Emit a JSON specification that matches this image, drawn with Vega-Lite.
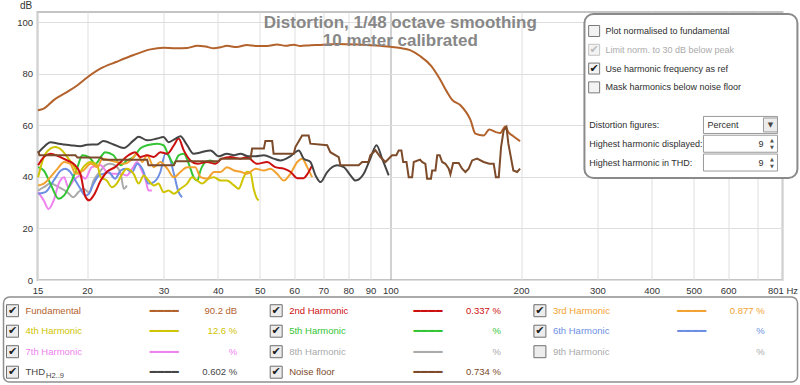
{
  "$schema": "https://vega.github.io/schema/vega-lite/v6.json",
  "background": "white",
  "padding": {"left": 2.5, "top": 0, "right": 0, "bottom": 0},
  "width": 745,
  "height": 268,
  "config": {"font": "Liberation Sans", "text": {"font": "Liberation Sans"}, "view": {"stroke": "#c4c4c4", "strokeWidth": 2, "fill": "white"}},
  "datasets": {
    "lines": [
      {"series":"8th Harmonic","freq":15.42,"db":34.7},{"series":"8th Harmonic","freq":15.89,"db":36},{"series":"8th Harmonic","freq":16.46,"db":37.4},{"series":"8th Harmonic","freq":17.2,"db":36},{"series":"8th Harmonic","freq":18.0,"db":34.1},{"series":"8th Harmonic","freq":18.6,"db":32.1},{"series":"8th Harmonic","freq":19.1,"db":34.1},{"series":"8th Harmonic","freq":19.6,"db":35.4},{"series":"8th Harmonic","freq":20.2,"db":34.1},{"series":"8th Harmonic","freq":20.7,"db":38.6},{"series":"8th Harmonic","freq":21.5,"db":42.5},{"series":"8th Harmonic","freq":22.0,"db":44.5},{"series":"8th Harmonic","freq":22.6,"db":45.1},{"series":"8th Harmonic","freq":23.2,"db":44.5},{"series":"8th Harmonic","freq":23.9,"db":41.2},{"series":"8th Harmonic","freq":24.3,"db":35.4},{"series":"8th Harmonic","freq":24.7,"db":36.7},
      {"series":"7th Harmonic","freq":15.42,"db":34.1},{"series":"7th Harmonic","freq":15.89,"db":30.9},{"series":"7th Harmonic","freq":16.3,"db":27.6},{"series":"7th Harmonic","freq":16.75,"db":30.9},{"series":"7th Harmonic","freq":17.2,"db":37.4},{"series":"7th Harmonic","freq":17.7,"db":39.9},{"series":"7th Harmonic","freq":18.1,"db":36},{"series":"7th Harmonic","freq":18.6,"db":38.6},{"series":"7th Harmonic","freq":19.3,"db":40.6},{"series":"7th Harmonic","freq":19.8,"db":39.3},{"series":"7th Harmonic","freq":20.5,"db":43.8},{"series":"7th Harmonic","freq":21.5,"db":44.5},{"series":"7th Harmonic","freq":22.2,"db":41.9},{"series":"7th Harmonic","freq":23.0,"db":41.2},{"series":"7th Harmonic","freq":23.9,"db":41.2},{"series":"7th Harmonic","freq":24.7,"db":40.6},{"series":"7th Harmonic","freq":25.4,"db":43.2},{"series":"7th Harmonic","freq":26.1,"db":45.8},{"series":"7th Harmonic","freq":26.5,"db":43.8},{"series":"7th Harmonic","freq":27.3,"db":38.6},{"series":"7th Harmonic","freq":27.7,"db":34.7},{"series":"7th Harmonic","freq":28.2,"db":34.7},
      {"series":"6th Harmonic","freq":15.42,"db":33.5},{"series":"6th Harmonic","freq":16.03,"db":34.1},{"series":"6th Harmonic","freq":16.75,"db":38.6},{"series":"6th Harmonic","freq":17.4,"db":42.5},{"series":"6th Harmonic","freq":17.8,"db":43.2},{"series":"6th Harmonic","freq":18.3,"db":41.9},{"series":"6th Harmonic","freq":18.8,"db":38.6},{"series":"6th Harmonic","freq":19.3,"db":35.4},{"series":"6th Harmonic","freq":19.8,"db":32.8},{"series":"6th Harmonic","freq":20.2,"db":33.5},{"series":"6th Harmonic","freq":20.7,"db":37.4},{"series":"6th Harmonic","freq":21.3,"db":40.6},{"series":"6th Harmonic","freq":21.8,"db":41.2},{"series":"6th Harmonic","freq":22.4,"db":41.9},{"series":"6th Harmonic","freq":23.2,"db":39.3},{"series":"6th Harmonic","freq":23.9,"db":42.5},{"series":"6th Harmonic","freq":24.5,"db":43.2},{"series":"6th Harmonic","freq":25.4,"db":41.9},{"series":"6th Harmonic","freq":26.1,"db":45.1},{"series":"6th Harmonic","freq":26.8,"db":43.2},{"series":"6th Harmonic","freq":27.7,"db":37.4},{"series":"6th Harmonic","freq":28.5,"db":38},{"series":"6th Harmonic","freq":29.5,"db":41.9},{"series":"6th Harmonic","freq":30.3,"db":49},{"series":"6th Harmonic","freq":30.8,"db":48.4},{"series":"6th Harmonic","freq":31.7,"db":41.2},{"series":"6th Harmonic","freq":32.5,"db":34.1},{"series":"6th Harmonic","freq":33.1,"db":32.1},
      {"series":"5th Harmonic","freq":15.42,"db":43.8},{"series":"5th Harmonic","freq":15.89,"db":42.5},{"series":"5th Harmonic","freq":16.46,"db":37.4},{"series":"5th Harmonic","freq":17.2,"db":31.5},{"series":"5th Harmonic","freq":17.7,"db":32.8},{"series":"5th Harmonic","freq":18.3,"db":37.4},{"series":"5th Harmonic","freq":19.0,"db":43.8},{"series":"5th Harmonic","freq":19.5,"db":48.4},{"series":"5th Harmonic","freq":20.2,"db":47.7},{"series":"5th Harmonic","freq":20.9,"db":45.1},{"series":"5th Harmonic","freq":21.5,"db":47.7},{"series":"5th Harmonic","freq":22.0,"db":49.6},{"series":"5th Harmonic","freq":23.0,"db":48.4},{"series":"5th Harmonic","freq":23.9,"db":44.5},{"series":"5th Harmonic","freq":24.7,"db":46.4},{"series":"5th Harmonic","freq":25.6,"db":47.7},{"series":"5th Harmonic","freq":26.5,"db":51},{"series":"5th Harmonic","freq":27.5,"db":52.3},{"series":"5th Harmonic","freq":29.0,"db":52.9},{"series":"5th Harmonic","freq":30.0,"db":52.3},{"series":"5th Harmonic","freq":30.8,"db":48.4},{"series":"5th Harmonic","freq":31.7,"db":45.1},{"series":"5th Harmonic","freq":32.5,"db":48.4},{"series":"5th Harmonic","freq":33.4,"db":49},{"series":"5th Harmonic","freq":34.3,"db":45.1},{"series":"5th Harmonic","freq":35.2,"db":39.9},{"series":"5th Harmonic","freq":35.9,"db":38.6},{"series":"5th Harmonic","freq":36.5,"db":42.5},{"series":"5th Harmonic","freq":37.5,"db":45.8},{"series":"5th Harmonic","freq":38.5,"db":46.4},{"series":"5th Harmonic","freq":39.5,"db":45.5},
      {"series":"4th Harmonic","freq":15.42,"db":39.9},{"series":"4th Harmonic","freq":15.89,"db":47.7},{"series":"4th Harmonic","freq":16.46,"db":51},{"series":"4th Harmonic","freq":16.9,"db":51.6},{"series":"4th Harmonic","freq":17.5,"db":50.3},{"series":"4th Harmonic","freq":18.0,"db":47.7},{"series":"4th Harmonic","freq":18.6,"db":44.5},{"series":"4th Harmonic","freq":19.1,"db":41.2},{"series":"4th Harmonic","freq":19.6,"db":43.8},{"series":"4th Harmonic","freq":20.4,"db":45.8},{"series":"4th Harmonic","freq":21.1,"db":44.5},{"series":"4th Harmonic","freq":21.5,"db":39.9},{"series":"4th Harmonic","freq":22.2,"db":38.6},{"series":"4th Harmonic","freq":22.8,"db":36},{"series":"4th Harmonic","freq":23.4,"db":37.4},{"series":"4th Harmonic","freq":24.1,"db":41.2},{"series":"4th Harmonic","freq":24.7,"db":43.2},{"series":"4th Harmonic","freq":25.6,"db":41.2},{"series":"4th Harmonic","freq":26.3,"db":37.4},{"series":"4th Harmonic","freq":27.0,"db":40.6},{"series":"4th Harmonic","freq":27.7,"db":38.6},{"series":"4th Harmonic","freq":28.5,"db":36.7},{"series":"4th Harmonic","freq":29.2,"db":37.4},{"series":"4th Harmonic","freq":30.0,"db":34.1},{"series":"4th Harmonic","freq":30.8,"db":34.7},{"series":"4th Harmonic","freq":31.7,"db":33.5},{"series":"4th Harmonic","freq":32.8,"db":35.4},{"series":"4th Harmonic","freq":34.0,"db":37.4},{"series":"4th Harmonic","freq":34.9,"db":39.9},{"series":"4th Harmonic","freq":35.9,"db":38.6},{"series":"4th Harmonic","freq":36.8,"db":37.4},{"series":"4th Harmonic","freq":38.1,"db":39.3},{"series":"4th Harmonic","freq":39.2,"db":39.9},{"series":"4th Harmonic","freq":40.6,"db":38.6},{"series":"4th Harmonic","freq":42.0,"db":38.6},{"series":"4th Harmonic","freq":43.6,"db":36.7},{"series":"4th Harmonic","freq":44.7,"db":35.4},{"series":"4th Harmonic","freq":45.9,"db":39.9},{"series":"4th Harmonic","freq":46.7,"db":42},{"series":"4th Harmonic","freq":47.6,"db":41.5},{"series":"4th Harmonic","freq":48.4,"db":35.4},{"series":"4th Harmonic","freq":49.3,"db":31.5},{"series":"4th Harmonic","freq":49.7,"db":30.9},
      {"series":"3rd Harmonic","freq":15.42,"db":36.7},{"series":"3rd Harmonic","freq":15.89,"db":37.4},{"series":"3rd Harmonic","freq":16.46,"db":39.9},{"series":"3rd Harmonic","freq":17.1,"db":43.2},{"series":"3rd Harmonic","freq":17.7,"db":45.8},{"series":"3rd Harmonic","freq":18.3,"db":45.1},{"series":"3rd Harmonic","freq":18.8,"db":41.2},{"series":"3rd Harmonic","freq":19.6,"db":42.5},{"series":"3rd Harmonic","freq":20.4,"db":45.1},{"series":"3rd Harmonic","freq":21.1,"db":43.8},{"series":"3rd Harmonic","freq":21.7,"db":47.1},{"series":"3rd Harmonic","freq":22.6,"db":46.4},{"series":"3rd Harmonic","freq":23.4,"db":45.8},{"series":"3rd Harmonic","freq":24.3,"db":45.1},{"series":"3rd Harmonic","freq":25.2,"db":46.4},{"series":"3rd Harmonic","freq":26.1,"db":49},{"series":"3rd Harmonic","freq":26.8,"db":45.8},{"series":"3rd Harmonic","freq":27.5,"db":48.4},{"series":"3rd Harmonic","freq":28.5,"db":43.8},{"series":"3rd Harmonic","freq":29.5,"db":45.8},{"series":"3rd Harmonic","freq":30.6,"db":43.2},{"series":"3rd Harmonic","freq":31.7,"db":39.9},{"series":"3rd Harmonic","freq":32.8,"db":41.9},{"series":"3rd Harmonic","freq":34.0,"db":43.8},{"series":"3rd Harmonic","freq":35.5,"db":43.8},{"series":"3rd Harmonic","freq":36.5,"db":39.9},{"series":"3rd Harmonic","freq":37.8,"db":39.3},{"series":"3rd Harmonic","freq":39.2,"db":41.9},{"series":"3rd Harmonic","freq":40.6,"db":41.9},{"series":"3rd Harmonic","freq":42.0,"db":43.8},{"series":"3rd Harmonic","freq":43.6,"db":42.5},{"series":"3rd Harmonic","freq":45.1,"db":42},{"series":"3rd Harmonic","freq":46.7,"db":41.2},{"series":"3rd Harmonic","freq":48.9,"db":43.2},{"series":"3rd Harmonic","freq":51.1,"db":42.5},{"series":"3rd Harmonic","freq":52.9,"db":43.2},{"series":"3rd Harmonic","freq":54.8,"db":41.2},{"series":"3rd Harmonic","freq":56.8,"db":38.6},{"series":"3rd Harmonic","freq":58.8,"db":41.2},{"series":"3rd Harmonic","freq":61.0,"db":45.8},{"series":"3rd Harmonic","freq":62.6,"db":47.1},{"series":"3rd Harmonic","freq":64.3,"db":43.8},{"series":"3rd Harmonic","freq":66.0,"db":39.9},
      {"series":"2nd Harmonic","freq":15.42,"db":44.5},{"series":"2nd Harmonic","freq":15.89,"db":47.7},{"series":"2nd Harmonic","freq":16.46,"db":49},{"series":"2nd Harmonic","freq":17.2,"db":48},{"series":"2nd Harmonic","freq":18.0,"db":46.4},{"series":"2nd Harmonic","freq":18.6,"db":45.1},{"series":"2nd Harmonic","freq":19.3,"db":41.2},{"series":"2nd Harmonic","freq":19.8,"db":32.5},{"series":"2nd Harmonic","freq":20.2,"db":30.9},{"series":"2nd Harmonic","freq":20.7,"db":32.8},{"series":"2nd Harmonic","freq":21.5,"db":38.6},{"series":"2nd Harmonic","freq":22.2,"db":41.9},{"series":"2nd Harmonic","freq":23.2,"db":43.8},{"series":"2nd Harmonic","freq":24.1,"db":46.4},{"series":"2nd Harmonic","freq":24.9,"db":48.4},{"series":"2nd Harmonic","freq":25.8,"db":49.6},{"series":"2nd Harmonic","freq":26.5,"db":47.7},{"series":"2nd Harmonic","freq":27.5,"db":48.4},{"series":"2nd Harmonic","freq":28.5,"db":47.7},{"series":"2nd Harmonic","freq":29.5,"db":49.6},{"series":"2nd Harmonic","freq":30.6,"db":49},{"series":"2nd Harmonic","freq":31.7,"db":52.3},{"series":"2nd Harmonic","freq":32.5,"db":54.9},{"series":"2nd Harmonic","freq":33.4,"db":50.3},{"series":"2nd Harmonic","freq":34.6,"db":46.4},{"series":"2nd Harmonic","freq":35.9,"db":45.1},{"series":"2nd Harmonic","freq":37.8,"db":45.8},{"series":"2nd Harmonic","freq":39.5,"db":45.1},{"series":"2nd Harmonic","freq":40.9,"db":47.1},{"series":"2nd Harmonic","freq":42.8,"db":47.7},{"series":"2nd Harmonic","freq":45.1,"db":47.1},{"series":"2nd Harmonic","freq":46.7,"db":47.7},{"series":"2nd Harmonic","freq":49.3,"db":45.1},{"series":"2nd Harmonic","freq":52.0,"db":45.8},{"series":"2nd Harmonic","freq":54.3,"db":43.8},{"series":"2nd Harmonic","freq":56.8,"db":43.2},{"series":"2nd Harmonic","freq":58.8,"db":42},{"series":"2nd Harmonic","freq":61.0,"db":39.5},{"series":"2nd Harmonic","freq":63.1,"db":39.5},{"series":"2nd Harmonic","freq":64.3,"db":41},{"series":"2nd Harmonic","freq":66.0,"db":44.5},
      {"series":"THD","freq":15.42,"db":49.3},{"series":"THD","freq":15.89,"db":51.6},{"series":"THD","freq":16.46,"db":53.5},{"series":"THD","freq":17.2,"db":52.9},{"series":"THD","freq":18.3,"db":52.3},{"series":"THD","freq":19.3,"db":51.9},{"series":"THD","freq":20.0,"db":52.5},{"series":"THD","freq":21.1,"db":52.6},{"series":"THD","freq":21.8,"db":53.9},{"series":"THD","freq":23.0,"db":52.6},{"series":"THD","freq":24.3,"db":51.2},{"series":"THD","freq":25.6,"db":54.2},{"series":"THD","freq":26.3,"db":55.6},{"series":"THD","freq":27.5,"db":54.2},{"series":"THD","freq":29.0,"db":54.9},{"series":"THD","freq":30.0,"db":55.5},{"series":"THD","freq":30.8,"db":53.5},{"series":"THD","freq":32.0,"db":54.9},{"series":"THD","freq":32.8,"db":55.8},{"series":"THD","freq":34.0,"db":52.3},{"series":"THD","freq":35.2,"db":49},{"series":"THD","freq":36.5,"db":49.5},{"series":"THD","freq":38.5,"db":50.3},{"series":"THD","freq":40.2,"db":48},{"series":"THD","freq":42.0,"db":49},{"series":"THD","freq":43.6,"db":48.4},{"series":"THD","freq":45.1,"db":49},{"series":"THD","freq":47.1,"db":48},{"series":"THD","freq":48.9,"db":48},{"series":"THD","freq":51.1,"db":48.4},{"series":"THD","freq":53.8,"db":47.1},{"series":"THD","freq":55.8,"db":46.4},{"series":"THD","freq":58.8,"db":48},{"series":"THD","freq":61.5,"db":50.3},{"series":"THD","freq":63.1,"db":47.1},{"series":"THD","freq":65.4,"db":45.8},{"series":"THD","freq":67.2,"db":40.6},{"series":"THD","freq":69.0,"db":38},{"series":"THD","freq":71.5,"db":41.9},{"series":"THD","freq":75.4,"db":44.5},{"series":"THD","freq":78.1,"db":43.8},{"series":"THD","freq":80.9,"db":40.6},{"series":"THD","freq":83.1,"db":38.6},{"series":"THD","freq":86.8,"db":41.2},{"series":"THD","freq":89.9,"db":47.1},{"series":"THD","freq":92.9,"db":52.3},{"series":"THD","freq":95.7,"db":47.1},{"series":"THD","freq":99.1,"db":40.6},
      {"series":"Fundamental","freq":15.4,"db":65.9},{"series":"Fundamental","freq":15.89,"db":66.5},{"series":"Fundamental","freq":16.75,"db":69.8},{"series":"Fundamental","freq":18.0,"db":73},{"series":"Fundamental","freq":19.0,"db":75.6},{"series":"Fundamental","freq":20.0,"db":78.6},{"series":"Fundamental","freq":21.5,"db":82.1},{"series":"Fundamental","freq":23.4,"db":84.7},{"series":"Fundamental","freq":25.6,"db":87.3},{"series":"Fundamental","freq":28.0,"db":89.5},{"series":"Fundamental","freq":30.0,"db":90.1},{"series":"Fundamental","freq":32.0,"db":89.9},{"series":"Fundamental","freq":34.0,"db":90.0},{"series":"Fundamental","freq":35.9,"db":90.9},{"series":"Fundamental","freq":37.5,"db":90.6},{"series":"Fundamental","freq":39.2,"db":89.9},{"series":"Fundamental","freq":40.6,"db":90.3},{"series":"Fundamental","freq":42.0,"db":90.9},{"series":"Fundamental","freq":44.2,"db":90.4},{"series":"Fundamental","freq":46.7,"db":91.2},{"series":"Fundamental","freq":49.1,"db":90.8},{"series":"Fundamental","freq":52.0,"db":90.8},{"series":"Fundamental","freq":54.8,"db":91.4},{"series":"Fundamental","freq":57.3,"db":90.9},{"series":"Fundamental","freq":59.9,"db":91.3},{"series":"Fundamental","freq":62.0,"db":90.8},{"series":"Fundamental","freq":65.4,"db":91.1},{"series":"Fundamental","freq":69.0,"db":91.2},{"series":"Fundamental","freq":74.7,"db":91.6},{"series":"Fundamental","freq":84.0,"db":91.4},{"series":"Fundamental","freq":92.4,"db":91.0},{"series":"Fundamental","freq":100,"db":90.5},{"series":"Fundamental","freq":105.5,"db":90.0},{"series":"Fundamental","freq":111,"db":89.2},{"series":"Fundamental","freq":117,"db":86.9},{"series":"Fundamental","freq":124,"db":83.2},{"series":"Fundamental","freq":130,"db":78},{"series":"Fundamental","freq":135,"db":73},{"series":"Fundamental","freq":139,"db":69.8},{"series":"Fundamental","freq":145,"db":67.8},{"series":"Fundamental","freq":153,"db":62},{"series":"Fundamental","freq":157,"db":56.8},{"series":"Fundamental","freq":164,"db":56.1},{"series":"Fundamental","freq":169,"db":58.4},{"series":"Fundamental","freq":175,"db":57.4},{"series":"Fundamental","freq":179,"db":57},{"series":"Fundamental","freq":184,"db":59.6},{"series":"Fundamental","freq":187,"db":57.4},{"series":"Fundamental","freq":192,"db":55.8},{"series":"Fundamental","freq":199,"db":53.9}
    ],
    "noise": [
      {"series":"Noise floor","freq":15.42,"db":50.0},{"series":"Noise floor","freq":15.53,"db":48.4},{"series":"Noise floor","freq":18.8,"db":48.4},{"series":"Noise floor","freq":19.0,"db":47.5},{"series":"Noise floor","freq":21.5,"db":47.5},{"series":"Noise floor","freq":21.8,"db":46.7},{"series":"Noise floor","freq":27.5,"db":46.7},{"series":"Noise floor","freq":27.7,"db":44.5},{"series":"Noise floor","freq":31.7,"db":44.5},{"series":"Noise floor","freq":32.0,"db":46.1},{"series":"Noise floor","freq":40.2,"db":46.1},{"series":"Noise floor","freq":40.6,"db":47.1},{"series":"Noise floor","freq":47.6,"db":47.1},{"series":"Noise floor","freq":48.0,"db":51},{"series":"Noise floor","freq":51.1,"db":51},{"series":"Noise floor","freq":51.5,"db":53.9},{"series":"Noise floor","freq":53.4,"db":53.9},{"series":"Noise floor","freq":53.8,"db":49},{"series":"Noise floor","freq":59.9,"db":49},{"series":"Noise floor","freq":60.4,"db":51.6},{"series":"Noise floor","freq":62.6,"db":56.1},{"series":"Noise floor","freq":64.8,"db":56.1},{"series":"Noise floor","freq":65.4,"db":52.9},{"series":"Noise floor","freq":71.5,"db":52.3},{"series":"Noise floor","freq":72.7,"db":49.6},{"series":"Noise floor","freq":76.0,"db":47.7},{"series":"Noise floor","freq":76.7,"db":44.5},{"series":"Noise floor","freq":84.5,"db":44.5},{"series":"Noise floor","freq":86.1,"db":45.8},{"series":"Noise floor","freq":89.0,"db":45.8},{"series":"Noise floor","freq":89.9,"db":48.4},{"series":"Noise floor","freq":92.4,"db":50.3},{"series":"Noise floor","freq":94.8,"db":47.7},{"series":"Noise floor","freq":97.4,"db":45.8},{"series":"Noise floor","freq":100.9,"db":48.4},{"series":"Noise floor","freq":103.2,"db":48.4},{"series":"Noise floor","freq":104.5,"db":50.3},{"series":"Noise floor","freq":106.0,"db":50.3},{"series":"Noise floor","freq":107,"db":45.8},{"series":"Noise floor","freq":108.9,"db":45.8},{"series":"Noise floor","freq":110.2,"db":39.9},{"series":"Noise floor","freq":112.2,"db":39.9},{"series":"Noise floor","freq":113.2,"db":45.8},{"series":"Noise floor","freq":117,"db":46.7},{"series":"Noise floor","freq":118.3,"db":45.8},{"series":"Noise floor","freq":120.4,"db":45.1},{"series":"Noise floor","freq":121.5,"db":39.3},{"series":"Noise floor","freq":124,"db":39.3},{"series":"Noise floor","freq":124.8,"db":42.5},{"series":"Noise floor","freq":127,"db":42.5},{"series":"Noise floor","freq":128.2,"db":48.4},{"series":"Noise floor","freq":129.9,"db":48.4},{"series":"Noise floor","freq":131.6,"db":45.8},{"series":"Noise floor","freq":133.9,"db":45.1},{"series":"Noise floor","freq":136.3,"db":43.2},{"series":"Noise floor","freq":137.5,"db":41},{"series":"Noise floor","freq":139.5,"db":45.4},{"series":"Noise floor","freq":143.7,"db":45.4},{"series":"Noise floor","freq":146.3,"db":43.2},{"series":"Noise floor","freq":148.9,"db":41.9},{"series":"Noise floor","freq":151.5,"db":43.2},{"series":"Noise floor","freq":154.3,"db":46.4},{"series":"Noise floor","freq":158.4,"db":47.1},{"series":"Noise floor","freq":164,"db":45.8},{"series":"Noise floor","freq":169,"db":45.1},{"series":"Noise floor","freq":173,"db":45.1},{"series":"Noise floor","freq":175,"db":39.9},{"series":"Noise floor","freq":177.7,"db":39.9},{"series":"Noise floor","freq":179.9,"db":51.6},{"series":"Noise floor","freq":182.4,"db":58.1},{"series":"Noise floor","freq":185.1,"db":59.4},{"series":"Noise floor","freq":187,"db":52.9},{"series":"Noise floor","freq":190.1,"db":46.4},{"series":"Noise floor","freq":192,"db":42.5},{"series":"Noise floor","freq":195.9,"db":41.9},{"series":"Noise floor","freq":199,"db":43.2}
    ],
    "caption": [
      {"caption": "Distortion, 1/48 octave smoothing"}
    ],
    "panel": [
      {"label":"Plot normalised to fundamental","kind":"check","row":0,"state":"off"},
      {"label":"Limit norm. to 30 dB below peak","kind":"check","row":1,"state":"disabled"},
      {"label":"Use harmonic frequency as ref","kind":"check","row":2,"state":"on"},
      {"label":"Mask harmonics below noise floor","kind":"check","row":3,"state":"off"},
      {"label":"Distortion figures:","kind":"field","row":5,"value":"Percent","control":"dropdown"},
      {"label":"Highest harmonic displayed:","kind":"field","row":6,"value":"9","control":"spin"},
      {"label":"Highest harmonic in THD:","kind":"field","row":7,"value":"9","control":"spin"}
    ],
    "legend": [
      {"name":"Fundamental","grp":0,"row":0,"value":"90.2 dB","checked":true,"line":true},
      {"name":"2nd Harmonic","grp":1,"row":0,"value":"0.337 %","checked":true,"line":true},
      {"name":"3rd Harmonic","grp":2,"row":0,"value":"0.877 %","checked":true,"line":true},
      {"name":"4th Harmonic","grp":0,"row":1,"value":"12.6 %","checked":true,"line":true},
      {"name":"5th Harmonic","grp":1,"row":1,"value":"%","checked":true,"line":true},
      {"name":"6th Harmonic","grp":2,"row":1,"value":"%","checked":true,"line":true},
      {"name":"7th Harmonic","grp":0,"row":2,"value":"%","checked":true,"line":true},
      {"name":"8th Harmonic","grp":1,"row":2,"value":"%","checked":true,"line":true},
      {"name":"9th Harmonic","grp":2,"row":2,"value":"%","checked":false,"line":false},
      {"name":"THD","sub":"H2..9","grp":0,"row":3,"value":"0.602 %","checked":true,"line":true},
      {"name":"Noise floor","grp":1,"row":3,"value":"0.734 %","checked":true,"line":true}
    ],
    "frames": [
      {"box": "legend", "left": -0.0341, "right": 2.977, "top": -0.668, "bottom": 3.478}
    ]
  },
  "resolve": {"scale": {"x": "independent", "y": "independent"}, "axis": {"x": "independent", "y": "independent"}},
  "layer": [
    {
      "layer": [
        {
          "data": {"name": "lines"},
          "mark": {"type": "line", "interpolate": "monotone", "strokeWidth": 2},
          "encoding": {
            "x": {"field": "freq", "type": "quantitative", "title": null,
              "scale": {"type": "log", "domain": [15.37, 801], "nice": false},
              "axis": {"values": [15.37, 20, 30, 40, 50, 60, 70, 80, 90, 100, 200, 300, 400, 500, 600, 700, 801], "format": "d",
                "labelExpr": "datum.value == 801 ? '801 Hz' : datum.value == 700 ? '' : datum.label",
                "labelOverlap": false, "labelFlush": false, "ticks": false, "tickSize": 0, "domain": false, "grid": true,
                "gridColor": {"condition": {"test": "datum.value == 100", "value": "#a4a4a4"}, "value": "#dedede"},
                "labelFont": "Liberation Sans", "labelFontSize": 9.5, "labelColor": "#333333", "labelPadding": 5}},
            "y": {"field": "db", "type": "quantitative", "title": "dB",
              "scale": {"domain": [0, 104], "nice": false, "zero": false},
              "axis": {"values": [0, 20, 40, 60, 80, 100], "ticks": false, "tickSize": 0, "domain": false, "grid": true, "gridColor": "#dedede",
                "labelFont": "Liberation Sans", "labelFontSize": 9.5, "labelColor": "#333333", "labelPadding": 5,
                "titleAngle": 0, "titleX": -12, "titleY": -7, "titleAlign": "center", "titleBaseline": "middle",
                "titleFontWeight": "normal", "titleFontSize": 10, "titleFont": "Liberation Sans", "titleColor": "#333333",
                "minExtent": 34.5, "maxExtent": 34.5}},
            "color": {"field": "series", "type": "nominal", "legend": null,
              "scale": {"domain": ["8th Harmonic", "7th Harmonic", "6th Harmonic", "5th Harmonic", "4th Harmonic", "3rd Harmonic", "2nd Harmonic", "THD", "Fundamental", "Noise floor"],
                "range": ["#aaaaaa", "#ee82ee", "#6d8fe3", "#34c534", "#cfc400", "#f2a230", "#cc1010", "#454545", "#b3622c", "#7d4b2a"]}}
          }
        },
        {
          "data": {"name": "noise"},
          "mark": {"type": "line", "strokeWidth": 2},
          "encoding": {
            "x": {"field": "freq", "type": "quantitative", "title": null, "scale": {"type": "log", "domain": [15.37, 801], "nice": false}},
            "y": {"field": "db", "type": "quantitative", "title": "dB", "scale": {"domain": [0, 104], "nice": false, "zero": false}},
            "color": {"field": "series", "type": "nominal", "legend": null}
          }
        },
        {
          "data": {"name": "caption"},
          "mark": {"type": "text", "text": ["Distortion, 1/48 octave smoothing", "10 meter calibrated"], "align": "center", "baseline": "top", "fontSize": 17, "fontWeight": "bold", "color": "#878787", "font": "Liberation Sans", "lineHeight": 18.5},
          "encoding": {
            "x": {"datum": 105.4, "type": "quantitative", "scale": {"type": "log", "domain": [15.37, 801], "nice": false}},
            "y": {"datum": 103.0, "type": "quantitative", "scale": {"domain": [0, 104], "nice": false, "zero": false}}
          }
        }
      ]
    },
    {
      "data": {"name": "panel"},
      "layer": [
        {
          "data": {"values": [{"box": "controls"}]},
          "mark": {"type": "rect", "fill": "white", "stroke": "#8a8a8a", "strokeWidth": 2, "cornerRadius": 9},
          "encoding": {
            "x": {"datum": 280, "type": "quantitative", "axis": null, "scale": {"type": "log", "domain": [15.37, 801], "nice": false}},
            "x2": {"datum": 867},
            "y": {"datum": -0.905, "type": "quantitative", "axis": null, "scale": {"domain": [-1.011, 13.252], "reverse": true, "nice": false, "zero": false}},
            "y2": {"datum": 7.823}
          }
        },
        {
          "transform": [{"filter": "datum.kind == 'check'"}],
          "mark": {"type": "point", "shape": "square", "size": 121, "fill": "#f3f3f3", "strokeWidth": 1, "opacity": 1},
          "encoding": {
            "x": {"datum": 294.8, "type": "quantitative", "axis": null, "scale": {"type": "log", "domain": [15.37, 801], "nice": false}},
            "y": {"field": "row", "type": "quantitative", "axis": null, "scale": {"domain": [-1.011, 13.252], "reverse": true, "nice": false, "zero": false}},
            "stroke": {"condition": {"test": "datum.state == 'disabled'", "value": "#c4c4c4"}, "value": "#7a7a7a"}
          }
        },
        {
          "transform": [{"filter": "datum.kind == 'check' && datum.state != 'off'"}],
          "mark": {"type": "text", "text": "✔", "fontSize": 11, "align": "center", "baseline": "middle", "font": "DejaVu Sans"},
          "encoding": {
            "x": {"datum": 294.8, "type": "quantitative", "axis": null, "scale": {"type": "log", "domain": [15.37, 801], "nice": false}},
            "y": {"field": "row", "type": "quantitative", "axis": null, "scale": {"domain": [-1.011, 13.252], "reverse": true, "nice": false, "zero": false}},
            "color": {"condition": {"test": "datum.state == 'disabled'", "value": "#bdbdbd"}, "value": "#1e1e1e"}
          }
        },
        {
          "transform": [{"filter": "datum.kind == 'check'"}],
          "mark": {"type": "text", "fontSize": 9, "align": "left", "baseline": "middle", "font": "Liberation Sans"},
          "encoding": {
            "x": {"datum": 313, "type": "quantitative", "axis": null, "scale": {"type": "log", "domain": [15.37, 801], "nice": false}},
            "y": {"field": "row", "type": "quantitative", "axis": null, "scale": {"domain": [-1.011, 13.252], "reverse": true, "nice": false, "zero": false}},
            "text": {"field": "label"},
            "color": {"condition": {"test": "datum.state == 'disabled'", "value": "#ababab"}, "value": "#2e2e2e"}
          }
        },
        {
          "transform": [{"filter": "datum.kind == 'field'"}],
          "mark": {"type": "text", "fontSize": 9, "align": "left", "baseline": "middle", "font": "Liberation Sans", "color": "#2e2e2e"},
          "encoding": {
            "x": {"datum": 287.4, "type": "quantitative", "axis": null, "scale": {"type": "log", "domain": [15.37, 801], "nice": false}},
            "y": {"field": "row", "type": "quantitative", "axis": null, "scale": {"domain": [-1.011, 13.252], "reverse": true, "nice": false, "zero": false}},
            "text": {"field": "label"}
          }
        },
        {
          "transform": [{"filter": "datum.kind == 'field'"}],
          "mark": {"type": "point", "shape": "M-1,-0.23H1V0.23H-1Z", "size": 5476, "fill": "white", "stroke": "#9a9a9a", "strokeWidth": 1, "opacity": 1},
          "encoding": {
            "x": {"datum": 640.9, "type": "quantitative", "axis": null, "scale": {"type": "log", "domain": [15.37, 801], "nice": false}},
            "y": {"field": "row", "type": "quantitative", "axis": null, "scale": {"domain": [-1.011, 13.252], "reverse": true, "nice": false, "zero": false}}
          }
        },
        {
          "transform": [{"filter": "datum.control == 'dropdown'"}],
          "mark": {"type": "point", "shape": "square", "size": 196, "fill": "#ececec", "stroke": "#9a9a9a", "strokeWidth": 1, "opacity": 1},
          "encoding": {
            "x": {"datum": 751.4, "type": "quantitative", "axis": null, "scale": {"type": "log", "domain": [15.37, 801], "nice": false}},
            "y": {"field": "row", "type": "quantitative", "axis": null, "scale": {"domain": [-1.011, 13.252], "reverse": true, "nice": false, "zero": false}}
          }
        },
        {
          "transform": [{"filter": "datum.control == 'dropdown'"}],
          "mark": {"type": "text", "text": "▼", "fontSize": 7, "align": "center", "baseline": "middle", "font": "DejaVu Sans", "color": "#444444"},
          "encoding": {
            "x": {"datum": 751.4, "type": "quantitative", "axis": null, "scale": {"type": "log", "domain": [15.37, 801], "nice": false}},
            "y": {"field": "row", "type": "quantitative", "axis": null, "scale": {"domain": [-1.011, 13.252], "reverse": true, "nice": false, "zero": false}}
          }
        },
        {
          "transform": [{"filter": "datum.control == 'dropdown'"}],
          "mark": {"type": "text", "fontSize": 9, "align": "left", "baseline": "middle", "font": "Liberation Sans", "color": "#2e2e2e"},
          "encoding": {
            "x": {"datum": 537.9, "type": "quantitative", "axis": null, "scale": {"type": "log", "domain": [15.37, 801], "nice": false}},
            "y": {"field": "row", "type": "quantitative", "axis": null, "scale": {"domain": [-1.011, 13.252], "reverse": true, "nice": false, "zero": false}},
            "text": {"field": "value"}
          }
        },
        {
          "transform": [{"filter": "datum.control == 'spin'"}],
          "mark": {"type": "text", "fontSize": 9, "align": "right", "baseline": "middle", "font": "Liberation Sans", "color": "#2e2e2e"},
          "encoding": {
            "x": {"datum": 723.9, "type": "quantitative", "axis": null, "scale": {"type": "log", "domain": [15.37, 801], "nice": false}},
            "y": {"field": "row", "type": "quantitative", "axis": null, "scale": {"domain": [-1.011, 13.252], "reverse": true, "nice": false, "zero": false}},
            "text": {"field": "value"}
          }
        },
        {
          "transform": [{"filter": "datum.control == 'spin'"}],
          "mark": {"type": "text", "text": "▲", "fontSize": 5, "dy": -3.5, "align": "center", "baseline": "middle", "font": "DejaVu Sans", "color": "#555555"},
          "encoding": {
            "x": {"datum": 757.4, "type": "quantitative", "axis": null, "scale": {"type": "log", "domain": [15.37, 801], "nice": false}},
            "y": {"field": "row", "type": "quantitative", "axis": null, "scale": {"domain": [-1.011, 13.252], "reverse": true, "nice": false, "zero": false}}
          }
        },
        {
          "transform": [{"filter": "datum.control == 'spin'"}],
          "mark": {"type": "text", "text": "▼", "fontSize": 5, "dy": 3.5, "align": "center", "baseline": "middle", "font": "DejaVu Sans", "color": "#555555"},
          "encoding": {
            "x": {"datum": 757.4, "type": "quantitative", "axis": null, "scale": {"type": "log", "domain": [15.37, 801], "nice": false}},
            "y": {"field": "row", "type": "quantitative", "axis": null, "scale": {"domain": [-1.011, 13.252], "reverse": true, "nice": false, "zero": false}}
          }
        }
      ]
    },
    {
      "layer": [
        {
          "data": {"name": "frames"},
          "mark": {"type": "rect", "fill": "white", "stroke": "#8f8f8f", "strokeWidth": 1.5, "cornerRadius": 6},
          "encoding": {
            "x": {"field": "left", "type": "quantitative", "axis": null, "scale": {"domain": [0.0948, 2.92], "nice": false, "zero": false}},
            "x2": {"field": "right"},
            "y": {"field": "top", "type": "quantitative", "axis": null, "scale": {"domain": [-14.571, -1.498], "reverse": true, "nice": false, "zero": false}},
            "y2": {"field": "bottom"}
          }
        },
        {
          "data": {"name": "legend"},
          "mark": {"type": "point", "shape": "square", "size": 144, "fill": "#ececec", "stroke": "#6f6f6f", "strokeWidth": 1, "opacity": 1},
          "encoding": {
            "x": {"field": "grp", "type": "quantitative", "axis": null, "scale": {"domain": [0.0948, 2.92], "nice": false, "zero": false}},
            "y": {"field": "row", "type": "quantitative", "axis": null, "scale": {"domain": [-14.571, -1.498], "reverse": true, "nice": false, "zero": false}}
          }
        },
        {
          "data": {"name": "legend"},
          "transform": [{"filter": "datum.checked"}],
          "mark": {"type": "text", "text": "✔", "fontSize": 11, "align": "center", "baseline": "middle", "font": "DejaVu Sans", "color": "#1e1e1e"},
          "encoding": {
            "x": {"field": "grp", "type": "quantitative", "axis": null, "scale": {"domain": [0.0948, 2.92], "nice": false, "zero": false}},
            "y": {"field": "row", "type": "quantitative", "axis": null, "scale": {"domain": [-14.571, -1.498], "reverse": true, "nice": false, "zero": false}}
          }
        },
        {
          "data": {"name": "legend"},
          "mark": {"type": "text", "fontSize": 9.5, "align": "left", "baseline": "middle", "dx": 13, "font": "Liberation Sans"},
          "encoding": {
            "x": {"field": "grp", "type": "quantitative", "axis": null, "scale": {"domain": [0.0948, 2.92], "nice": false, "zero": false}},
            "y": {"field": "row", "type": "quantitative", "axis": null, "scale": {"domain": [-14.571, -1.498], "reverse": true, "nice": false, "zero": false}},
            "text": {"field": "name"},
            "color": {"field": "name", "type": "nominal", "legend": null,
              "scale": {"domain": ["Fundamental", "2nd Harmonic", "3rd Harmonic", "4th Harmonic", "5th Harmonic", "6th Harmonic", "7th Harmonic", "8th Harmonic", "9th Harmonic", "THD", "Noise floor"],
                "range": ["#b3622c", "#cc1010", "#f2a230", "#cfc400", "#34c534", "#6d8fe3", "#ee82ee", "#aaaaaa", "#35c8c8", "#454545", "#7d4b2a"]}}
          }
        },
        {
          "data": {"name": "legend"},
          "transform": [{"filter": "isValid(datum.sub)"}],
          "mark": {"type": "text", "fontSize": 7.5, "align": "left", "baseline": "middle", "dx": 33.5, "dy": 4, "font": "Liberation Sans", "color": "#454545"},
          "encoding": {
            "x": {"field": "grp", "type": "quantitative", "axis": null, "scale": {"domain": [0.0948, 2.92], "nice": false, "zero": false}},
            "y": {"field": "row", "type": "quantitative", "axis": null, "scale": {"domain": [-14.571, -1.498], "reverse": true, "nice": false, "zero": false}},
            "text": {"field": "sub"}
          }
        },
        {
          "data": {"name": "legend"},
          "transform": [{"filter": "datum.line"}],
          "mark": {"type": "text", "text": "━━━━", "fontSize": 12, "align": "center", "baseline": "middle", "dx": 151.8, "font": "DejaVu Sans Mono"},
          "encoding": {
            "x": {"field": "grp", "type": "quantitative", "axis": null, "scale": {"domain": [0.0948, 2.92], "nice": false, "zero": false}},
            "y": {"field": "row", "type": "quantitative", "axis": null, "scale": {"domain": [-14.571, -1.498], "reverse": true, "nice": false, "zero": false}},
            "color": {"field": "name", "type": "nominal", "legend": null}
          }
        },
        {
          "data": {"name": "legend"},
          "mark": {"type": "text", "fontSize": 9.5, "align": "right", "baseline": "middle", "dx": 224.7, "font": "Liberation Sans"},
          "encoding": {
            "x": {"field": "grp", "type": "quantitative", "axis": null, "scale": {"domain": [0.0948, 2.92], "nice": false, "zero": false}},
            "y": {"field": "row", "type": "quantitative", "axis": null, "scale": {"domain": [-14.571, -1.498], "reverse": true, "nice": false, "zero": false}},
            "text": {"field": "value"},
            "color": {"field": "name", "type": "nominal", "legend": null}
          }
        }
      ]
    }
  ]
}
